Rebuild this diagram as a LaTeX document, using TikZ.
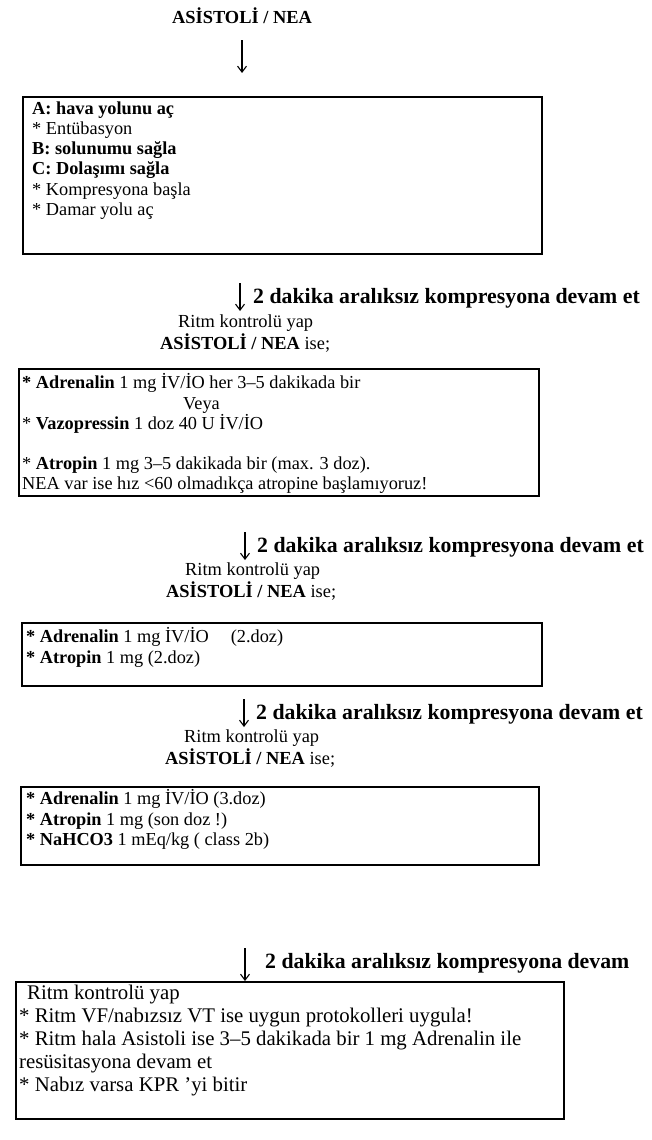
\documentclass[tikz,border=0pt]{standalone}
\usepackage{fontspec}
\setmainfont{Liberation Serif}
\usetikzlibrary{positioning,arrows.meta}

\tikzset{
  box/.style={draw, line width=2.2pt, anchor=north west, inner sep=0pt},
  boxtext/.style={anchor=north west, align=left, inner sep=0pt, font=\fontsize{18.3}{20.2}\selectfont},
  steplabel/.style={anchor=base west, inner sep=0pt, font=\fontsize{21.8}{24}\selectfont\bfseries},
  plain/.style={anchor=base west, inner sep=0pt, font=\fontsize{18.4}{20.2}\selectfont},
  down/.style={-{Straight Barb[length=6pt,width=9pt]}, line width=1.1pt},
}

\begin{document}
\begin{tikzpicture}[x=1pt,y=1pt]
\useasboundingbox (0,0) rectangle (651,-1140);

% start
\node[plain, anchor=base] (title) at (242,-24) {\textbf{ASİSTOLİ / NEA}};
\node[box, minimum width=519pt, minimum height=157pt] (box1) at (22,-96) {};
\node[boxtext] (txt1) at (32,-101.5) {\textbf{A: hava yolunu aç}\\
  * Entübasyon\\
  \textbf{B: solunumu sağla}\\
  \textbf{C: Dolaşımı sağla}\\
  * Kompresyona başla\\
  * Damar yolu aç};
\draw[down] ([yshift=-16pt]title.south) -- ([yshift=23pt]box1.north -| title);

% first check
\node[steplabel] (lbl2) at (253,-303) {2 dakika aralıksız kompresyona devam et};
\draw[down] ([xshift=-13pt,yshift=20pt]lbl2.base west) -- ([xshift=-13pt,yshift=-8pt]lbl2.base west);
\node[plain] (ritm2) at (178,-327) {Ritm kontrolü yap};
\node[plain] (asis2) at (160,-349) {\textbf{ASİSTOLİ / NEA} ise;};
\node[box, minimum width=520pt, minimum height=127pt] (box2) at (18,-368) {};
\node[boxtext] (txt2) at (22,-373.5) {\textbf{* Adrenalin} 1 mg İV/İO her 3–5 dakikada bir\\
  \hspace*{161pt}Veya\\
  * \textbf{Vazopressin} 1 doz 40 U İV/İO\\[20.2pt]
  * \textbf{Atropin} 1 mg 3–5 dakikada bir (max. 3 doz).\\
  NEA var ise hız <60 olmadıkça atropine başlamıyoruz!};

% second check
\node[steplabel] (lbl3) at (257,-552) {2 dakika aralıksız kompresyona devam et};
\draw[down] ([xshift=-12pt,yshift=20pt]lbl3.base west) -- ([xshift=-12pt,yshift=-8pt]lbl3.base west);
\node[plain] (ritm3) at (185,-575) {Ritm kontrolü yap};
\node[plain] (asis3) at (166,-597) {\textbf{ASİSTOLİ / NEA} ise;};
\node[box, minimum width=520pt, minimum height=63pt] (box3) at (21,-622) {};
\node[boxtext] (txt3) at (26,-627.5) {\textbf{* Adrenalin} 1 mg İV/İO\hspace{22pt}(2.doz)\\
  \textbf{* Atropin} 1 mg (2.doz)};

% third check
\node[steplabel] (lbl4) at (256,-719) {2 dakika aralıksız kompresyona devam et};
\draw[down] ([xshift=-12pt,yshift=20pt]lbl4.base west) -- ([xshift=-12pt,yshift=-8pt]lbl4.base west);
\node[plain] (ritm4) at (184,-742) {Ritm kontrolü yap};
\node[plain] (asis4) at (165,-764) {\textbf{ASİSTOLİ / NEA} ise;};
\node[box, minimum width=518pt, minimum height=78pt] (box4) at (20,-786) {};
\node[boxtext] (txt4) at (26,-789.5) {\textbf{* Adrenalin} 1 mg İV/İO (3.doz)\\
  \textbf{* Atropin} 1 mg (son doz !)\\
  \textbf{* NaHCO3} 1 mEq/kg ( class 2b)};

% last check
\node[steplabel] (lbl5) at (265,-968) {2 dakika aralıksız kompresyona devam};
\node[box, minimum width=548pt, minimum height=137pt] (box5) at (15,-981) {};
\coordinate (a5) at ([xshift=-20pt,yshift=20pt]lbl5.base west);
\draw[down] (a5) -- (box5.north -| a5);
\node[boxtext, font=\fontsize{20.8}{23}\selectfont] (txt5) at (19,-985) {\hspace*{8pt}Ritm kontrolü yap\\
  * Ritm VF/nabızsız VT ise uygun protokolleri uygula!\\
  * Ritm hala Asistoli ise 3–5 dakikada bir 1 mg Adrenalin ile\\
  resüsitasyona devam et\\
  * Nabız varsa KPR ’yi bitir};
\end{tikzpicture}
\end{document}
